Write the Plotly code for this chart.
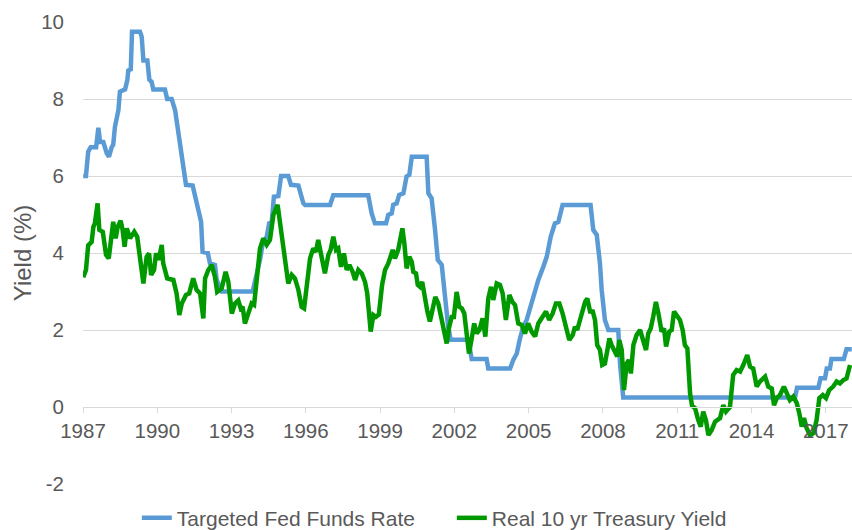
import plotly.graph_objects as go

# Targeted Fed Funds Rate (fractional years)
fed_years = [
    1987.01, 1987.12, 1987.21, 1987.31, 1987.53, 1987.62, 1987.69, 1987.82, 1987.96,
    1988.05, 1988.16, 1988.22, 1988.29, 1988.43, 1988.49, 1988.70, 1988.79, 1988.83,
    1988.93, 1988.98, 1989.30, 1989.37, 1989.44, 1989.60, 1989.68, 1989.77, 1989.84,
    1990.31, 1990.40, 1990.58, 1990.72, 1990.85, 1990.92, 1991.05, 1991.16, 1991.43,
    1991.59, 1991.77, 1991.83, 1992.04, 1992.13, 1992.33, 1992.40, 1992.50, 1992.60,
    1993.85, 1993.99, 1994.15, 1994.26, 1994.42, 1994.52, 1994.62, 1994.71, 1994.89,
    1995.00, 1995.29, 1995.40, 1995.70, 1995.90, 1995.97, 1996.98, 1997.11, 1998.52,
    1998.66, 1998.79, 1999.24, 1999.33, 1999.47, 1999.53, 1999.67, 1999.77, 1999.94,
    2000.07, 2000.18, 2000.28, 2000.88, 2000.95, 2001.08, 2001.22, 2001.33, 2001.49,
    2001.62, 2001.75, 2001.85, 2002.56, 2002.70, 2003.30, 2003.37, 2004.25, 2004.38,
    2004.52, 2004.65, 2004.78, 2004.92, 2005.12, 2005.26, 2005.39, 2005.59, 2005.73,
    2005.89, 2006.06, 2006.20, 2006.37, 2007.50, 2007.61, 2007.75, 2007.88, 2007.95,
    2008.08, 2008.22, 2008.62, 2008.69, 2008.76, 2008.82, 2015.76, 2015.84, 2016.70,
    2016.79, 2016.97, 2017.04, 2017.17, 2017.23, 2017.73, 2017.84, 2018.05,
]
fed_rate = [
    6.0, 6.0, 6.63, 6.75, 6.75, 7.25, 6.88, 6.88, 6.59,
    6.5, 6.75, 6.81, 7.28, 7.71, 8.19, 8.25, 8.49, 8.74,
    8.77, 9.75, 9.75, 9.62, 9.0, 9.0, 8.5, 8.45, 8.25,
    8.25, 8.0, 8.0, 7.71, 7.11, 6.76, 6.07, 5.77, 5.75,
    5.29, 4.81, 4.03, 4.0, 3.73, 3.69, 3.3, 3.17, 3.0,
    3.0, 3.38, 3.82, 4.25, 4.42, 4.77, 4.79, 5.46, 5.48,
    6.0, 6.0, 5.77, 5.75, 5.29, 5.25, 5.25, 5.5, 5.5,
    5.03, 4.77, 4.77, 4.99, 5.03, 5.25, 5.29, 5.51, 5.55,
    5.99, 6.03, 6.5, 6.5, 5.55, 5.42, 4.6, 3.82, 3.69,
    2.86, 2.08, 1.75, 1.75, 1.25, 1.25, 1.0, 1.0, 1.22,
    1.39, 1.78, 2.08, 2.26, 2.69, 3.04, 3.3, 3.64, 3.9,
    4.42, 4.77, 4.81, 5.25, 5.25, 4.6, 4.47, 3.73, 3.04,
    2.26, 2.0, 2.0, 1.13, 0.7, 0.25, 0.25, 0.5, 0.5,
    0.75, 0.75, 1.0, 1.0, 1.25, 1.25, 1.5, 1.5,
]

# Real 10 yr Treasury Yield
real_years = [
    1987.01, 1987.12, 1987.21, 1987.35, 1987.42, 1987.48, 1987.59, 1987.66, 1987.80, 1987.93,
    1988.04, 1988.12, 1988.22, 1988.32, 1988.40, 1988.52, 1988.60, 1988.68, 1988.77, 1988.90,
    1989.07, 1989.19, 1989.30, 1989.44, 1989.57, 1989.67, 1989.75, 1989.87, 1989.95, 1990.06,
    1990.18, 1990.24, 1990.40, 1990.65, 1990.78, 1990.89, 1990.99, 1991.16, 1991.29, 1991.45,
    1991.59, 1991.73, 1991.86, 1991.93, 1992.06, 1992.20, 1992.33, 1992.42, 1992.60, 1992.76,
    1992.87, 1993.01, 1993.14, 1993.27, 1993.37, 1993.45, 1993.54, 1993.68, 1993.81, 1993.91,
    1994.02, 1994.15, 1994.28, 1994.42, 1994.55, 1994.69, 1994.86, 1994.98, 1995.09, 1995.16,
    1995.29, 1995.43, 1995.56, 1995.70, 1995.83, 1995.93, 1996.04, 1996.17, 1996.30, 1996.41,
    1996.50, 1996.64, 1996.77, 1996.91, 1997.00, 1997.11, 1997.22, 1997.31, 1997.42, 1997.54,
    1997.65, 1997.76, 1997.89, 1997.99, 1998.12, 1998.26, 1998.39, 1998.48, 1998.56, 1998.62,
    1998.73, 1998.83, 1998.95, 1999.08, 1999.20, 1999.33, 1999.51, 1999.60, 1999.73, 1999.83,
    1999.90, 1999.98, 2000.07, 2000.18, 2000.28, 2000.34, 2000.45, 2000.52, 2000.61, 2000.70,
    2000.81, 2000.91, 2001.01, 2001.12, 2001.23, 2001.35, 2001.45, 2001.55, 2001.69, 2001.79,
    2001.89, 2001.98, 2002.09, 2002.20, 2002.30, 2002.40, 2002.50, 2002.59, 2002.70, 2002.80,
    2002.90, 2003.01, 2003.14, 2003.25, 2003.37, 2003.48, 2003.57, 2003.71, 2003.84, 2003.95,
    2004.08, 2004.22, 2004.34, 2004.45, 2004.58, 2004.72, 2004.85, 2004.98, 2005.12, 2005.26,
    2005.39, 2005.57, 2005.70, 2005.83, 2005.97, 2006.10, 2006.24, 2006.37, 2006.51, 2006.64,
    2006.78, 2006.87, 2006.96, 2007.07, 2007.18, 2007.28, 2007.37, 2007.48, 2007.59, 2007.68,
    2007.77, 2007.88, 2007.97, 2008.08, 2008.18, 2008.26, 2008.35, 2008.49, 2008.58, 2008.66,
    2008.76, 2008.85, 2008.96, 2009.05, 2009.13, 2009.23, 2009.36, 2009.50, 2009.63, 2009.74,
    2009.83, 2009.93, 2010.03, 2010.14, 2010.24, 2010.37, 2010.47, 2010.55, 2010.68, 2010.78,
    2010.87, 2010.98, 2011.11, 2011.22, 2011.31, 2011.41, 2011.52, 2011.60, 2011.72, 2011.85,
    2011.95, 2012.05, 2012.16, 2012.26, 2012.39, 2012.53, 2012.73, 2012.86, 2012.97, 2013.13,
    2013.26, 2013.40, 2013.54, 2013.67, 2013.83, 2013.94, 2014.07, 2014.21, 2014.34, 2014.55,
    2014.68, 2014.82, 2014.91, 2015.02, 2015.15, 2015.31, 2015.42, 2015.55, 2015.69, 2015.83,
    2015.93, 2016.03, 2016.12, 2016.23, 2016.36, 2016.50, 2016.63, 2016.74, 2016.88, 2017.01,
    2017.14, 2017.30, 2017.44, 2017.57, 2017.71, 2017.84, 2017.98,
]
real_yield = [
    3.37, 3.56, 4.2, 4.29, 4.68, 4.77, 5.29, 4.6, 4.55, 3.95,
    3.86, 4.26, 4.81, 4.38, 4.68, 4.84, 4.6, 4.16, 4.64, 4.38,
    4.55, 4.42, 3.9, 3.21, 3.9, 3.99, 3.43, 3.56, 3.99, 3.82,
    4.21, 3.73, 3.34, 3.3, 2.95, 2.39, 2.69, 2.91, 2.95, 3.34,
    3.04, 2.95, 2.3, 3.34, 3.56, 3.69, 3.38, 2.99, 3.08, 3.51,
    3.25, 2.43, 2.69, 2.77, 2.56, 2.6, 2.17, 2.43, 2.69, 2.65,
    3.3, 4.12, 4.38, 4.21, 4.34, 4.99, 5.25, 4.68, 4.21, 3.99,
    3.21, 3.43, 3.34, 3.04, 2.6, 2.56, 3.12, 3.86, 4.12, 4.03,
    4.34, 3.9, 3.47, 3.95, 4.08, 4.42, 4.08, 4.12, 3.64, 3.99,
    3.56, 3.69, 3.51, 3.3, 3.56, 3.47, 3.25, 2.95, 2.22, 1.96,
    2.39, 2.34, 2.4, 3.17, 3.56, 3.73, 4.08, 3.86, 4.08, 4.51,
    4.64, 4.25, 3.6, 3.9, 3.77, 3.51, 3.47, 3.17, 3.12, 3.25,
    2.78, 2.48, 2.22, 2.6, 2.86, 2.69, 2.34, 2.08, 1.65, 2.08,
    2.34, 2.34, 2.99, 2.6, 2.56, 2.43, 1.91, 1.39, 1.78, 2.17,
    1.91, 2.0, 2.3, 1.83, 2.82, 3.12, 2.78, 3.21, 3.17, 2.95,
    2.26, 2.91, 2.73, 2.65, 2.17, 2.13, 1.91, 2.17, 1.96, 1.83,
    2.17, 2.34, 2.48, 2.26, 2.43, 2.69, 2.69, 2.43, 2.0, 1.74,
    1.87, 2.08, 2.0, 2.26, 2.48, 2.73, 2.82, 2.48, 2.48, 2.26,
    1.61, 1.48, 1.09, 1.13, 1.48, 1.78, 1.61, 1.44, 1.31, 1.74,
    1.48, 0.44, 1.13, 1.22, 0.87, 1.61, 1.87, 2.0, 1.74, 1.48,
    1.91, 2.04, 2.34, 2.73, 2.43, 1.96, 2.04, 1.57, 1.96, 2.0,
    2.48, 2.39, 2.26, 2.0, 1.61, 1.52, 0.35, 0.03, -0.03, -0.34,
    -0.51, -0.12, -0.34, -0.73, -0.6, -0.38, -0.29, 0.05, -0.12, 0.0,
    0.83, 0.96, 0.92, 1.09, 1.35, 1.05, 1.0, 0.53, 0.66, 0.79,
    0.53, 0.48, 0.05, 0.23, 0.31, 0.53, 0.36, 0.18, 0.27, 0.1,
    -0.16, -0.51, -0.29, -0.55, -0.73, -0.68, -0.34, 0.23, 0.31, 0.23,
    0.44, 0.53, 0.66, 0.61, 0.7, 0.74, 1.09,
]

tick_years = list(range(1987, 2018, 3))
y_ticks = [-2, 0, 2, 4, 6, 8, 10]
y_tick_text = ["-2", "0", "2", "4", "6", "8", "10"]

BLUE = "#5B9BD5"
GREEN = "#009A00"
GRID = "#D9D9D9"
TEXT = "#595959"
FONT = "Liberation Sans, Arial, sans-serif"

fig = go.Figure()
fig.add_trace(go.Scatter(
    x=fed_years, y=fed_rate, mode="lines", name="Targeted Fed Funds Rate",
    line=dict(color=BLUE, width=4.5),
))
fig.add_trace(go.Scatter(
    x=real_years, y=real_yield, mode="lines", name="Real 10 yr Treasury Yield",
    line=dict(color=GREEN, width=4.5),
))

fig.update_layout(
    width=852, height=530,
    margin=dict(l=83, r=0, t=22, b=46, autoexpand=False),
    paper_bgcolor="white", plot_bgcolor="white",
    font=dict(family=FONT, size=20, color=TEXT),
    showlegend=True,
    legend=dict(
        orientation="h", x=0.07, xanchor="left", y=-0.074, yanchor="middle",
        entrywidth=270, entrywidthmode="pixels",
        font=dict(size=21, color=TEXT), bgcolor="rgba(0,0,0,0)",
    ),
    xaxis=dict(
        range=[1987, 2018.06], tickvals=tick_years,
        anchor="free", position=1 / 6, automargin=False,
        showgrid=False, zeroline=False,
        showline=True, linecolor=GRID, linewidth=1,
        ticks="outside", ticklen=5, tickcolor=GRID,
        tickfont=dict(size=20.5, color=TEXT),
    ),
    yaxis=dict(
        range=[-2, 10], tickvals=y_ticks, ticktext=y_tick_text,
        domain=[0, 1], automargin=False,
        showgrid=True, gridcolor=GRID, gridwidth=1,
        zeroline=False, showline=False, ticks="",
        ticklabelstandoff=18,
        tickfont=dict(size=20.5, color=TEXT),
        title=dict(text="Yield (%)", font=dict(size=24, color=TEXT), standoff=2),
    ),
)

# drop the default page margin so the 852x530 figure fills the window exactly
fig.write_html(
    "out.html",
    config={"displayModeBar": False},
    post_script="document.body.style.margin='0';document.body.style.overflow='hidden';",
)
